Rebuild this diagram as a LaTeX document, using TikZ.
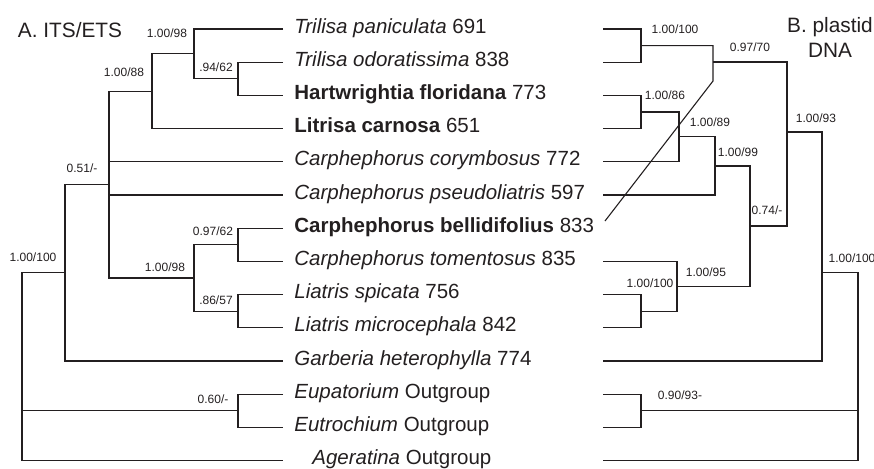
\documentclass[tikz,border=0pt]{standalone}
\usepackage{fontspec}
\setmainfont{Liberation Sans}
\definecolor{Ink}{RGB}{35,31,32}
\begin{document}
\begin{tikzpicture}[
    x=0.5pt,
    y=-0.5pt,
    taxon/.style={anchor=base west, inner sep=0pt, text=Ink, font=\fontsize{10.25}{12}\selectfont},
    support/.style={inner sep=0pt, text=Ink, font=\fontsize{6}{7}\selectfont},
    heading/.style={inner sep=0pt, text=Ink, align=center, font=\fontsize{10.4}{12.5}\selectfont},
    branch/.style={draw=Ink, line width=0.55pt}
  ]
  \useasboundingbox (0,0) rectangle (874,468);

  % Panel titles
  \node[heading] (titleA) at (70,30) {A. ITS/ETS};
  \node[heading] (titleB) at (830,37) {B. plastid\\DNA};

  % Taxa, shared by both trees
  \node[taxon] (t1) at (294,33) {\textit{Trilisa paniculata} 691};
  \node[taxon] (t2) at (294,66.2) {\textit{Trilisa odoratissima} 838};
  \node[taxon] (t3) at (294,99.4) {\textbf{Hartwrightia floridana} 773};
  \node[taxon] (t4) at (294,132.6) {\textbf{Litrisa carnosa} 651};
  \node[taxon] (t5) at (294,165.8) {\textit{Carphephorus corymbosus} 772};
  \node[taxon] (t6) at (294,199) {\textit{Carphephorus pseudoliatris} 597};
  \node[taxon] (t7) at (294,232.2) {\textbf{Carphephorus bellidifolius} 833};
  \node[taxon] (t8) at (294,265.4) {\textit{Carphephorus tomentosus} 835};
  \node[taxon] (t9) at (294,298.6) {\textit{Liatris spicata} 756};
  \node[taxon] (t10) at (294,331.8) {\textit{Liatris microcephala} 842};
  \node[taxon] (t11) at (294,365) {\textit{Garberia heterophylla} 774};
  \node[taxon] (t12) at (294,398.2) {\textit{Eupatorium} Outgroup};
  \node[taxon] (t13) at (294,431.4) {\textit{Eutrochium} Outgroup};
  \node[taxon] (t14) at (312,464.6) {\textit{Ageratina} Outgroup};

  % Left tree: tips and nodes
  \coordinate (la1) at (283,29);
  \coordinate (la2) at (283,62.2);
  \coordinate (la3) at (283,95.4);
  \coordinate (la4) at (283,128.6);
  \coordinate (la5) at (283,161.8);
  \coordinate (la6) at (283,195);
  \coordinate (la7) at (283,228.2);
  \coordinate (la8) at (283,261.4);
  \coordinate (la9) at (283,294.6);
  \coordinate (la10) at (283,327.8);
  \coordinate (la11) at (283,361);
  \coordinate (la12) at (283,394.2);
  \coordinate (la13) at (283,427.4);
  \coordinate (la14) at (283,460.6);
  \coordinate (lHart) at (238,78.8);
  \coordinate (lTril) at (194,53.9);
  \coordinate (lLitr) at (152,91.2);
  \coordinate (lCarp) at (109,184.6);
  \coordinate (lBell) at (238,244.8);
  \coordinate (lLiat) at (238,311.2);
  \coordinate (lCarpB) at (194,278);
  \coordinate (lIngr) at (65,272.8);
  \coordinate (lOutg) at (238,410.8);
  \coordinate (lRoot) at (22,366);

  \draw[branch] (la2) -| (lHart) |- (la3);
  \draw[branch] (la1) -| (lTril) |- (lHart);
  \draw[branch] (lTril) -| (lLitr) |- (la4);
  \draw[branch] (lLitr) -| (lCarp) |- (lCarpB);
  \draw[branch] (lCarp |- la5) -- (la5);
  \draw[branch] (lCarp |- la6) -- (la6);
  \draw[branch] (la7) -| (lBell) |- (la8);
  \draw[branch] (la9) -| (lLiat) |- (la10);
  \draw[branch] (lBell) -| (lCarpB) |- (lLiat);
  \draw[branch] (lCarp) -| (lIngr) |- (la11);
  \draw[branch] (la12) -| (lOutg) |- (la13);
  \draw[branch] (lIngr) -| (lRoot) |- (la14);
  \draw[branch] (lOutg) -- (lRoot |- lOutg);

  % Left tree support values
  \node[support] (sa1) at (167,33) {1.00/98};
  \node[support] (sa2) at (216,67) {.94/62};
  \node[support] (sa3) at (124,72) {1.00/88};
  \node[support] (sa4) at (82,168) {0.51/-};
  \node[support] (sa5) at (213,231) {0.97/62};
  \node[support] (sa6) at (33,257) {1.00/100};
  \node[support] (sa7) at (165,267) {1.00/98};
  \node[support] (sa8) at (216,300) {.86/57};
  \node[support] (sa9) at (213,399) {0.60/-};

  % Right tree: tips and nodes
  \coordinate (rb1) at (603,29);
  \coordinate (rb2) at (603,62.2);
  \coordinate (rb3) at (603,95.4);
  \coordinate (rb4) at (603,128.6);
  \coordinate (rb5) at (603,161.8);
  \coordinate (rb6) at (603,195);
  \coordinate (rb7) at (605,221);
  \coordinate (rb8) at (603,261.4);
  \coordinate (rb9) at (603,294.6);
  \coordinate (rb10) at (603,327.8);
  \coordinate (rb11) at (603,361);
  \coordinate (rb12) at (603,394.2);
  \coordinate (rb13) at (603,427.4);
  \coordinate (rb14) at (603,460.6);
  \coordinate (rTril) at (641,45.6);
  \coordinate (rHart) at (641,112);
  \coordinate (rCory) at (679,136.9);
  \coordinate (rPseu) at (715,166);
  \coordinate (rLiat) at (641,311.2);
  \coordinate (rTome) at (677,286.3);
  \coordinate (rCarp) at (750,226);
  \coordinate (rBell) at (713,62);
  \coordinate (rDiag) at (713,81);
  \coordinate (rUp) at (787,132);
  \coordinate (rIngr) at (822,272.7);
  \coordinate (rOutg) at (641,410.8);
  \coordinate (rRoot) at (858,366);

  \draw[branch] (rb1) -| (rTril) |- (rb2);
  \draw[branch] (rb3) -| (rHart) |- (rb4);
  \draw[branch] (rHart) -| (rCory) |- (rb5);
  \draw[branch] (rCory) -| (rPseu) |- (rb6);
  \draw[branch] (rb9) -| (rLiat) |- (rb10);
  \draw[branch] (rb8) -| (rTome) |- (rLiat);
  \draw[branch] (rPseu) -| (rCarp) |- (rTome);
  \draw[branch] (rTril) -| (rBell) -- (rDiag) -- (rb7);
  \draw[branch] (rBell) -| (rUp) |- (rCarp);
  \draw[branch] (rUp) -| (rIngr) |- (rb11);
  \draw[branch] (rb12) -| (rOutg) |- (rb13);
  \draw[branch] (rIngr) -| (rRoot) |- (rb14);
  \draw[branch] (rOutg) -- (rRoot |- rOutg);

  % Right tree support values
  \node[support] (sb1) at (675,29) {1.00/100};
  \node[support] (sb2) at (750,47) {0.97/70};
  \node[support] (sb3) at (665,95) {1.00/86};
  \node[support] (sb4) at (710,122) {1.00/89};
  \node[support] (sb5) at (738,152) {1.00/99};
  \node[support] (sb6) at (816,118) {1.00/93};
  \node[support] (sb7) at (767,210) {0.74/-};
  \node[support] (sb8) at (852,258) {1.00/100};
  \node[support] (sb9) at (706,272) {1.00/95};
  \node[support] (sb10) at (650,283) {1.00/100};
  \node[support] (sb11) at (680,395) {0.90/93-};
\end{tikzpicture}
\end{document}
